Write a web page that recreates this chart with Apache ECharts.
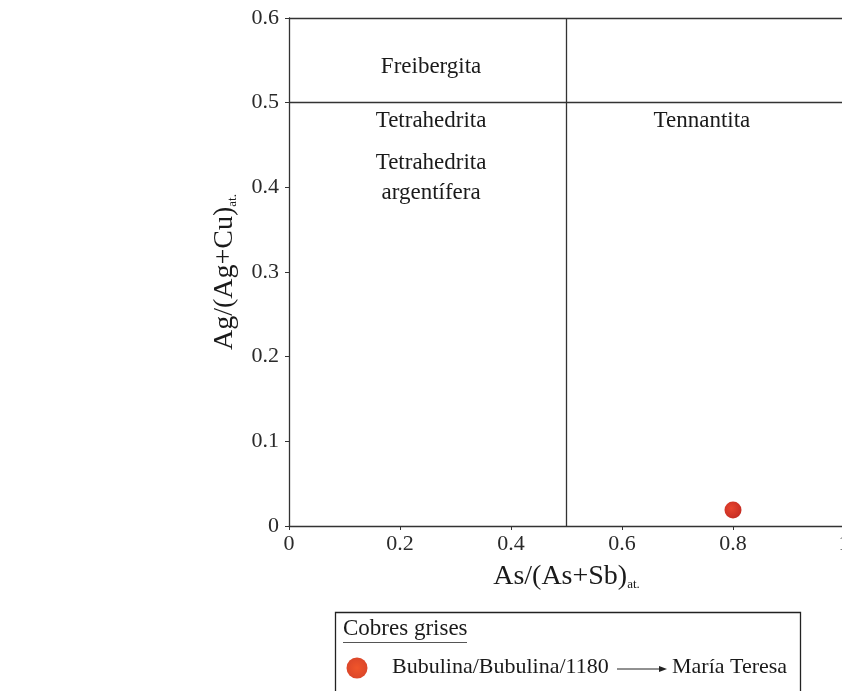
<!DOCTYPE html>
<html>
<head>
<meta charset="utf-8">
<script src="https://cdn.jsdelivr.net/npm/echarts@6/dist/echarts.min.js"></script>
<style>html,body{margin:0;padding:0;background:#fff}#c{width:842px;height:691px}</style>
</head>
<body>
<div id="c"></div>
<script>
// Data
const xTicks = [0, 0.2, 0.4, 0.6, 0.8, 1];
const yTicks = [0, 0.1, 0.2, 0.3, 0.4, 0.5, 0.6];
const samples = [[0.8, 0.019]];
const sampleName = 'Bubulina/Bubulina/1180';
const boundaryX = [0.5];
const boundaryY = [0.5, 0.6];
const regionNames = ['Freibergita', 'Tetrahedrita', 'Tetrahedrita\nargentífera', 'Tennantita'];
const regionX = [0.256, 0.256, 0.256, 0.744];
const regionY = [0.542, 0.478, 0.411, 0.478];

const FONT = 'Liberation Serif';
const chart = echarts.init(document.getElementById('c'));
const fmt = v => String(Math.round(v * 10) / 10);

chart.setOption({
  backgroundColor: '#fff',
  animation: false,
  textStyle: { fontFamily: FONT },
  grid: { left: 289, top: 18, width: 555, height: 508, containLabel: false, outerBoundsMode: 'none' },
  xAxis: {
    type: 'value', min: 0, max: 1, interval: 0.2,
    axisLine: { show: true, lineStyle: { color: '#333', width: 1.3 } },
    axisTick: { show: true, length: 4, lineStyle: { color: '#333' } },
    splitLine: { show: false },
    axisLabel: { color: '#2a2a2a', fontSize: 22, fontFamily: FONT, margin: 7, formatter: fmt },
    name: '{a|As/(As+Sb)}{s|at.}',
    nameLocation: 'middle', nameGap: 36,
    nameTextStyle: {
      rich: {
        a: { fontSize: 28, fontFamily: FONT, color: '#1a1a1a' },
        s: { fontSize: 13, fontFamily: FONT, color: '#1a1a1a', padding: [16, 0, 0, 0] }
      }
    }
  },
  yAxis: {
    type: 'value', min: 0, max: 0.6, interval: 0.1,
    axisLine: { show: true, lineStyle: { color: '#333', width: 1.3 } },
    axisTick: { show: true, length: 4, lineStyle: { color: '#333' } },
    splitLine: { show: false },
    axisLabel: { color: '#2a2a2a', fontSize: 22, fontFamily: FONT, margin: 10, formatter: fmt },
    name: '{a|Ag/(Ag+Cu)}{s|at.}',
    nameLocation: 'middle', nameGap: 50,
    nameTextStyle: {
      rich: {
        a: { fontSize: 28, fontFamily: FONT, color: '#1a1a1a' },
        s: { fontSize: 13, fontFamily: FONT, color: '#1a1a1a', padding: [16, 0, 0, 0] }
      }
    }
  },
  series: [
    {
      type: 'scatter',
      name: 'regions',
      silent: true,
      symbolSize: 0,
      itemStyle: { opacity: 1 },
      data: regionNames.map((n, i) => ({ value: [regionX[i], regionY[i]], name: n })),
      label: {
        show: true, position: 'inside', formatter: p => p.name, opacity: 1,
        fontSize: 23, fontFamily: FONT, color: '#1a1a1a', lineHeight: 30, align: 'center'
      },
      markLine: {
        silent: true, symbol: 'none', label: { show: false },
        lineStyle: { color: '#333', width: 1.3, type: 'solid' },
        data: boundaryX.map(v => ({ xAxis: v })).concat(boundaryY.map(v => ({ yAxis: v })))
      }
    },
    {
      type: 'scatter',
      name: sampleName,
      symbol: 'circle',
      symbolSize: 17,
      itemStyle: {
        opacity: 1,
        color: {
          type: 'radial', x: 0.4, y: 0.4, r: 0.7,
          colorStops: [{ offset: 0, color: '#e8452f' }, { offset: 1, color: '#c22a22' }]
        }
      },
      data: samples
    }
  ],
  graphic: [
    { type: 'rect', left: 333, top: 610, shape: { width: 465, height: 90 },
      style: { fill: 'none', stroke: '#222', lineWidth: 1.3 } },
    { type: 'text', left: 343, top: 617,
      style: { text: 'Cobres grises', font: '23px "Liberation Serif"', fill: '#1a1a1a' } },
    { type: 'line', shape: { x1: 343, y1: 642.5, x2: 467, y2: 642.5 }, style: { stroke: '#555', lineWidth: 1 } },
    { type: 'circle', shape: { cx: 357, cy: 668, r: 10.5 },
      style: { fill: {
        type: 'radial', x: 0.5, y: 0.5, r: 0.6,
        colorStops: [{ offset: 0, color: '#f0552a' }, { offset: 1, color: '#d8442a' }]
      } } },
    { type: 'text', left: 392, top: 656,
      style: { text: sampleName, font: '22px "Liberation Serif"', fill: '#1a1a1a' } },
    { type: 'line', shape: { x1: 617, y1: 669, x2: 662, y2: 669 }, style: { stroke: '#222', lineWidth: 1 } },
    { type: 'polygon', shape: { points: [[667, 669], [659, 666], [659, 672]] }, style: { fill: '#222' } },
    { type: 'text', left: 672, top: 656,
      style: { text: 'María Teresa', font: '22px "Liberation Serif"', fill: '#1a1a1a' } }
  ]
});
</script>
</body>
</html>
